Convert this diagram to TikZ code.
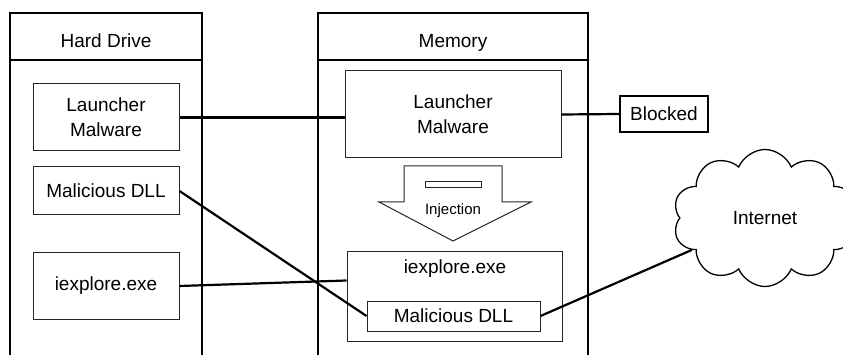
\documentclass[tikz,border=0pt]{standalone}
\usepackage{fontspec}
\setmainfont{Liberation Sans}
\usetikzlibrary{shapes,shapes.symbols,arrows,positioning,calc}

\begin{document}
\begin{tikzpicture}[x=1pt, y=-1pt,
        box/.style={rectangle, draw=black!85, line width=1pt, inner sep=0pt, align=center, font=\fontsize{19}{25}\selectfont},
        head/.style={anchor=base, inner sep=0pt, font=\fontsize{19}{25}\selectfont},
        column/.style={line width=1.6pt},
        link/.style={line width=2.2pt}]
        \useasboundingbox (0,0) rectangle (843,355);

        % the two columns, open at the bottom
        \draw[column] (10,355) |- (202,13) -- (202,355);
        \draw[column] (10,60) -- (202,60);
        \draw[column] (318,355) |- (588,13) -- (588,355);
        \draw[column] (318,60) -- (588,60);
        \node[head] (hdhead) at (106,48) {Hard Drive};
        \node[head] (memhead) at (453,48) {Memory};

        % hard drive
        \node[box, minimum width=146pt, minimum height=67pt] (hdlaunch) at (106,117.5) {Launcher\\Malware};
        \node[box, minimum width=146pt, minimum height=48pt] (hddll) at (106,191) {Malicious DLL};
        \node[box, minimum width=146pt, minimum height=66pt] (hdie) at (106,286) {iexplore.exe};

        % memory
        \node[box, minimum width=216pt, minimum height=87pt] (memlaunch) at (453,114.5) {Launcher\\Malware};
        \node[box, minimum width=215pt, minimum height=89pt] (memie) at (454.5,296.5) {};
        \node[head] (memietext) at (455,274) {iexplore.exe};
        \node[box, minimum width=173pt, minimum height=30pt] (memdll) at (453.5,316) {Malicious DLL};

        % injection arrow
        \draw[line width=1pt, draw=black!85] (404,166) -- (502,166) -- (502,202) -- (531,202)
            -- (453,241) -- (379,202) -- (404,202) -- cycle;
        \node[draw=black!85, line width=1pt, inner sep=0pt, minimum width=56pt, minimum height=6pt] (injbar) at (453,185) {};
        \node[anchor=base, inner sep=0pt, font=\fontsize{15}{18}\selectfont] (injtext) at (453,215) {Injection};

        % outside
        \node[box, draw=black, line width=2.2pt, minimum width=88pt, minimum height=36pt] (blocked) at (664,114) {Blocked};
        \node[cloud, draw, line width=1.3pt, cloud puffs=10, cloud puff arc=135, aspect=1.35,
            minimum width=184pt, minimum height=137pt, font=\fontsize{19}{25}\selectfont] (net) at (765,218) {Internet};

        \draw[link] (hdlaunch.east) -- (hdlaunch.east -| memlaunch.west);
        \draw[link] (memlaunch.east) -- (blocked.west);
        \draw[link] (hddll.east) -- (memdll.west);
        \draw[link] (hdie.east) -- ([yshift=16pt]memie.west);
        \draw[link] (memdll.east) -- (net);
    \end{tikzpicture}
\end{document}
